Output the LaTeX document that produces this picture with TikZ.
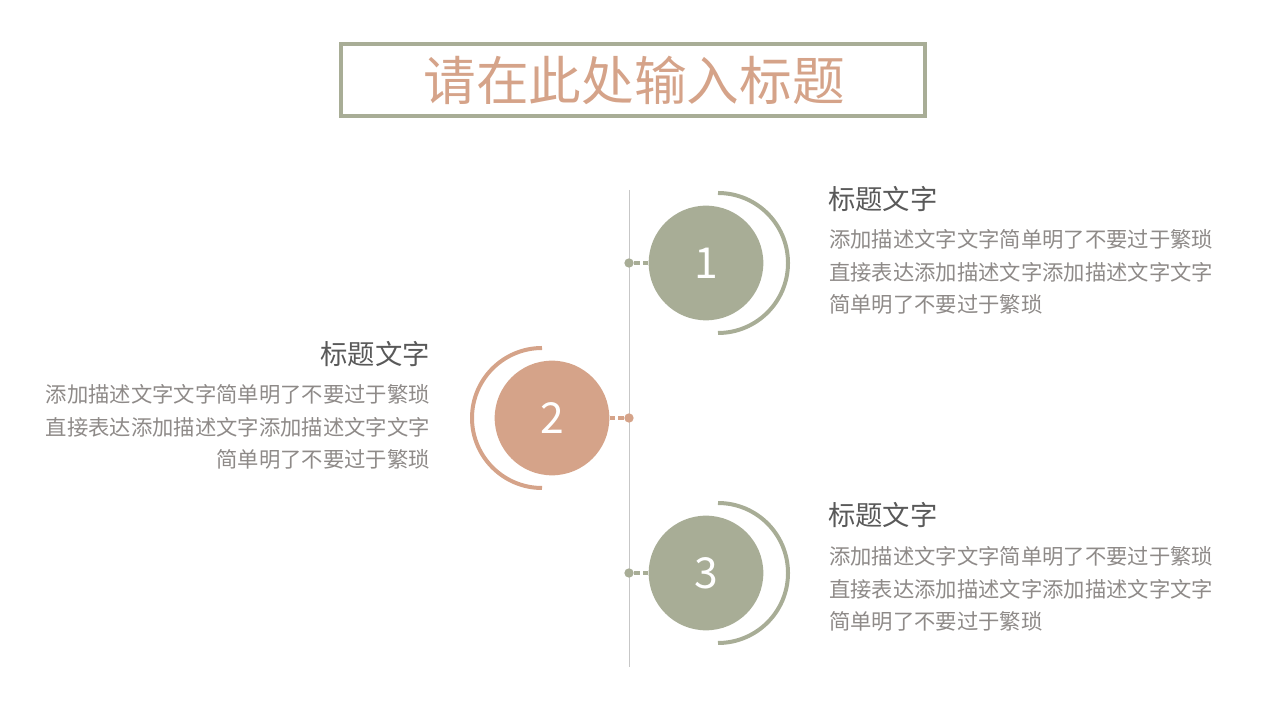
\documentclass[tikz,border=0pt]{standalone}
\usepackage{fontspec}
\setmainfont{Noto Sans CJK SC}
\definecolor{sage}{HTML}{A8AD96}
\definecolor{clay}{HTML}{D5A389}
\definecolor{headgray}{HTML}{595959}
\definecolor{bodygray}{HTML}{8E8A88}
\begin{document}
\begin{tikzpicture}[x=0.75pt, y=0.75pt,
		ball/.style={circle, fill=#1, minimum size=86pt, inner sep=0pt, text=white, font=\fontsize{32}{32}\selectfont},
		dot/.style={circle, fill=#1, minimum size=7pt, inner sep=0pt},
		link/.style={#1, line width=2.3pt, dash pattern=on 4.5pt off 2.5pt},
		ring/.style={#1, line width=3pt},
		head/.style={text=headgray, inner sep=0pt, font=\fontsize{20.5}{24}\selectfont},
		body/.style={text=bodygray, inner sep=0pt, font=\fontsize{16}{24.5}\selectfont}]
		\useasboundingbox (0,0) rectangle (1280,720);
		\node[draw=sage, line width=2.4pt, minimum width=438pt, minimum height=54pt] (frame) at (633,640) {};
		\node[text=clay, font=\fontsize{39.5}{40}\selectfont] (title) at (634,640) {请在此处输入标题};
		\draw[black!22, line width=0.6pt] (629,530) -- (629,53);
		\node[ball=sage] (c1) at (706,457) {1};
		\node[ball=clay] (c2) at (552,302) {2};
		\node[ball=sage] (c3) at (706,147) {3};
		\node[dot=sage] (d1) at (629,457) {};
		\node[dot=clay] (d2) at (629,302) {};
		\node[dot=sage] (d3) at (629,147) {};
		\draw[link=sage] (d1) -- (c1);
		\draw[link=clay] (d2) -- (c2);
		\draw[link=sage] (d3) -- (c3);
		\draw[ring=sage] (718,527) arc (90:-90:70);
		\draw[ring=clay] (542,372) arc (90:270:70);
		\draw[ring=sage] (718,217) arc (90:-90:70);
		\node[head, anchor=west] (h1) at (828,521) {标题文字};
		\node[body, anchor=west, align=left] (t1) at (829,448) {添加描述文字文字简单明了不要过于繁琐\\直接表达添加描述文字添加描述文字文字\\简单明了不要过于繁琐};
		\node[head, anchor=east] (h2) at (430,366) {标题文字};
		\node[body, anchor=east, align=right] (t2) at (430,293) {添加描述文字文字简单明了不要过于繁琐\\直接表达添加描述文字添加描述文字文字\\简单明了不要过于繁琐};
		\node[head, anchor=west] (h3) at (828,205) {标题文字};
		\node[body, anchor=west, align=left] (t3) at (829,131) {添加描述文字文字简单明了不要过于繁琐\\直接表达添加描述文字添加描述文字文字\\简单明了不要过于繁琐};
	\end{tikzpicture}
\end{document}
